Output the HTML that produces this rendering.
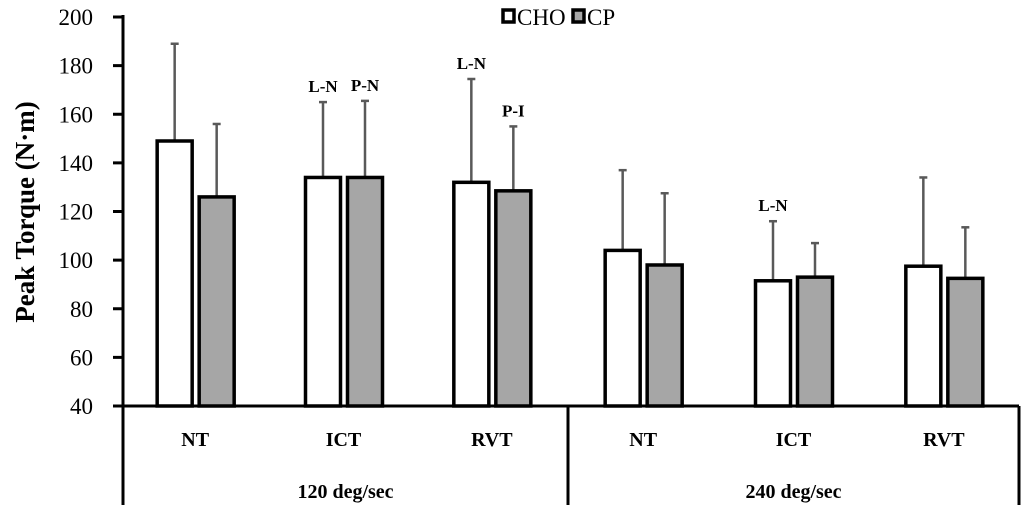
<!DOCTYPE html>
<html><head><meta charset="utf-8"><style>
body{margin:0;background:#fff}
svg{display:block}
svg text{font-family:"Liberation Serif",serif}
</style></head><body>
<svg id="chart" width="1024" height="514" viewBox="0 0 1024 514">
<g id="axes"></g><g id="bars"></g><g id="labels"></g>
</svg>
<script>
const categories=["NT","ICT","RVT","NT","ICT","RVT"];
const groups=["120 deg/sec","240 deg/sec"];
const choValues=[149,134,132,104,91.5,97.5];
const cpValues=[126,134,128.5,98,93,92.5];
const choErrTop=[189,165,174.5,137,116,134];
const cpErrTop=[156,165.5,155,127.5,107,113.5];
const choNotes=["","L-N","L-N","","L-N",""];
const cpNotes=["","P-N","P-I","","",""];
const yTicks=[40,60,80,100,120,140,160,180,200];

const NS="http://www.w3.org/2000/svg";
const X0=123,X1=1019,Y0=406,Y1=17,YMIN=40,YMAX=200;
function y(v){return Y0-(v-YMIN)/(YMAX-YMIN)*(Y0-Y1);}
const mid=(X0+X1)/2-3;
function catCenter(i){const g=Math.floor(i/3),k=i%3;const gx0=g?mid:X0,gx1=g?X1:mid;const w=(gx1-gx0)/3;return gx0+w*(k+0.5)+(g?0:-2);}
function mk(tag,attrs,parent,text){const e=document.createElementNS(NS,tag);for(const k in attrs)e.setAttribute(k,attrs[k]);if(tag==='text')e.setAttribute('font-family','Liberation Serif, serif');if(text!==undefined)e.textContent=text;parent.appendChild(e);return e;}
const axes=document.getElementById('axes'),bars=document.getElementById('bars'),labels=document.getElementById('labels');

let e=mk('line',{x1:X0,y1:Y1-2,x2:X0,y2:505,stroke:'#000','stroke-width':3},axes);


e=mk('line',{x1:X0,y1:Y0,x2:X1,y2:Y0,stroke:'#000','stroke-width':3},axes);


[mid,X1].forEach(xx=>{const l=mk('line',{x1:xx,y1:Y0,x2:xx,y2:505,stroke:'#000','stroke-width':3},axes);

});
yTicks.forEach(t=>{const l=mk('line',{x1:113,y1:y(t),x2:X0,y2:y(t),stroke:'#000','stroke-width':3},axes);


const tx=mk('text',{x:93,y:y(t)+8,'text-anchor':'end','font-size':23},axes,String(t));

});
e=mk('text',{x:0,y:0,transform:'translate(34,212) rotate(-90)','text-anchor':'middle','font-size':27,'font-weight':'bold'},axes,'Peak Torque (N·m)');



const BW=35;
categories.forEach((c,i)=>{
  const cx=catCenter(i);
  [[choValues,choErrTop,'#fff',-1,choNotes,'cho'],[cpValues,cpErrTop,'#a6a6a6',1,cpNotes,'cp']].forEach(([vals,errs,fill,side,notes,nm])=>{
    const bx=side<0?cx-BW-3:cx+3+1;
    const ex=bx+BW/2;
    const er=mk('line',{x1:ex,y1:y(errs[i]),x2:ex,y2:y(vals[i]),stroke:'#595959','stroke-width':2.5},bars);
    
    
    const cap=mk('line',{x1:ex-4,y1:y(errs[i]),x2:ex+4,y2:y(errs[i]),stroke:'#595959','stroke-width':2.5},bars);
    
    
    const r=mk('rect',{x:bx,y:y(vals[i]),width:BW,height:Y0-y(vals[i]),fill:fill,stroke:'#000','stroke-width':3.5},bars);
    
    
    if(notes[i]){const n=mk('text',{x:ex,y:y(errs[i])-10,'text-anchor':'middle','font-size':17,'font-weight':'bold'},labels,notes[i]);
    
    }
  });
  const t=mk('text',{x:cx,y:446,'text-anchor':'middle','font-size':20,'font-weight':'bold'},labels,c);
  
  
});
groups.forEach((g,i)=>{const gx=i?(mid+X1)/2:(X0+mid)/2;
const t=mk('text',{x:gx,y:498,'text-anchor':'middle','font-size':20,'font-weight':'bold'},labels,g);

});

[['CHO','#fff',503],['CP','#a6a6a6',573]].forEach(([n,f,lx])=>{
  const r=mk('rect',{x:lx,y:10,width:11,height:12,fill:f,stroke:'#000','stroke-width':3.5},labels);
  
  
  const t=mk('text',{x:lx+14,y:25,'font-size':23},labels,n);
  
  
});
</script>
</body></html>
